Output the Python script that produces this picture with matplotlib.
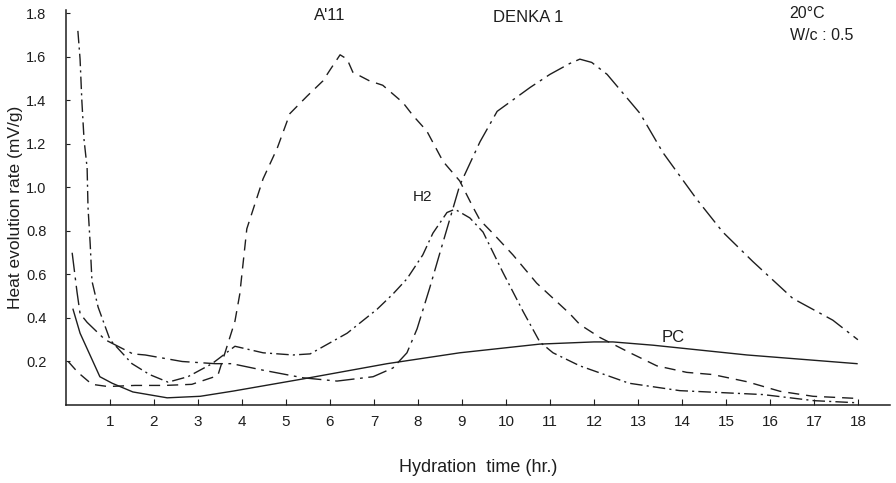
import matplotlib
matplotlib.use("Agg")
import matplotlib.pyplot as plt

# Heat evolution rate (mV/g) vs hydration time (hr)
pc_t = [0.16, 0.32, 0.59, 0.77, 1.05, 1.52, 2.3, 3.05, 3.8, 5.39, 7.3, 8.95,
        10.77, 12.0, 12.43, 13.34, 15.48, 17.98]
pc_q = [0.44, 0.33, 0.21, 0.13, 0.10, 0.06, 0.033, 0.04, 0.064, 0.12, 0.19, 0.24,
        0.28, 0.29, 0.29, 0.275, 0.23, 0.19]

h2_t = [0.27, 0.32, 0.36, 0.41, 0.48, 0.5, 0.55, 0.59, 0.73, 1.0, 1.5, 1.9, 2.32,
        2.77, 3.32, 3.84, 4.48, 5.16, 5.55, 6.39, 7.07, 7.43, 7.75, 8.11, 8.34,
        8.66, 8.84, 9.18, 9.48, 9.93, 10.39, 10.77, 11.07, 11.68, 12.8, 13.95,
        15.84, 17.0, 18.0]
h2_q = [1.72, 1.59, 1.40, 1.22, 1.09, 0.91, 0.74, 0.57, 0.45, 0.30, 0.19, 0.14,
        0.105, 0.13, 0.19, 0.27, 0.24, 0.23, 0.235, 0.33, 0.44, 0.51, 0.58, 0.69,
        0.79, 0.885, 0.90, 0.86, 0.795, 0.61, 0.43, 0.29, 0.24, 0.18, 0.10, 0.066,
        0.048, 0.02, 0.01]

denka_t = [0.14, 0.25, 0.32, 0.48, 0.89, 1.52, 1.8, 2.64, 3.39, 3.77, 4.48, 5.39,
           6.16, 6.98, 7.43, 7.75, 7.98, 8.27, 8.5, 8.95, 9.41, 9.8, 10.55, 11.0,
           11.45, 11.68, 11.95, 12.3, 13.05, 13.57, 14.34, 14.93, 15.61, 16.52,
           17.43, 18.0]
denka_q = [0.70, 0.52, 0.42, 0.38, 0.30, 0.235, 0.23, 0.20, 0.19, 0.19, 0.16, 0.125,
           0.11, 0.13, 0.17, 0.24, 0.35, 0.54, 0.70, 1.01, 1.21, 1.35, 1.46, 1.52,
           1.57, 1.59, 1.575, 1.52, 1.34, 1.16, 0.945, 0.795, 0.66, 0.49,
           0.39, 0.30]

a11_t = [0.05, 0.27, 0.59, 0.95, 1.57, 2.25, 2.86, 3.45, 3.84, 3.95, 4.11, 4.48,
         4.8, 5.09, 5.48, 5.84, 6.0, 6.23, 6.39, 6.52, 6.9, 7.2, 7.66, 7.89, 8.2,
         8.57, 8.95, 9.25, 9.41, 9.7, 10.16, 10.7, 11.45, 11.68, 12.14, 12.82,
         13.43, 14.11, 14.7, 15.48, 16.23, 16.98, 18.0]
a11_q = [0.20, 0.15, 0.095, 0.085, 0.09, 0.09, 0.095, 0.135, 0.385, 0.51, 0.81, 1.04,
         1.18, 1.34, 1.42, 1.49, 1.54, 1.61, 1.59, 1.53, 1.49, 1.47, 1.39, 1.33, 1.26,
         1.12, 1.03, 0.91, 0.85, 0.79, 0.69, 0.56, 0.42, 0.37, 0.31, 0.24,
         0.18, 0.15, 0.14, 0.107, 0.063, 0.04, 0.03]

x_ticks = list(range(1, 19))
y_ticks = [0.2, 0.4, 0.6, 0.8, 1.0, 1.2, 1.4, 1.6, 1.8]

plt.rcParams['font.family'] = ['Liberation Sans', 'DejaVu Sans']
ink = '#1e1e1e'

fig = plt.figure(figsize=(8.96, 4.83), dpi=100)
ax = fig.add_axes([66 / 896, 78 / 483, 824 / 896, 395 / 483])

ax.plot(pc_t, pc_q, color=ink, lw=1.0, linestyle='-')
ax.plot(h2_t, h2_q, color=ink, lw=1.0, linestyle=(0, (9, 3, 1.5, 3)))
ax.plot(denka_t, denka_q, color=ink, lw=1.0, linestyle=(0, (14, 4, 2, 4)))
ax.plot(a11_t, a11_q, color=ink, lw=1.0, linestyle=(0, (8, 5)))

ax.set_xlim(0, 18.73)
ax.set_ylim(0, 1.816)
for side in ['top', 'right']:
    ax.spines[side].set_visible(False)
for side in ['left', 'bottom']:
    ax.spines[side].set_color(ink)
    ax.spines[side].set_linewidth(1.1)

ax.set_xticks(x_ticks)
ax.set_xticklabels([str(t) for t in x_ticks])
ax.set_yticks(y_ticks)
ax.set_yticklabels([f"{v:.1f}" for v in y_ticks])
ax.tick_params(axis='x', direction='in', length=4, pad=7, labelsize=11, colors=ink)
ax.tick_params(axis='y', direction='in', length=3, pad=14, labelsize=10.5, colors=ink)

ax.set_xlabel('Hydration  time (hr.)', fontsize=13, color=ink, labelpad=22)
ax.set_ylabel('Heat evolution rate (mV/g)', fontsize=12.5, color=ink, labelpad=2)

# curve labels
ax.text(6.0, 1.79, "A'11", fontsize=12, color=ink, ha='center', va='center')
ax.text(10.5, 1.78, "DENKA 1", fontsize=12, color=ink, ha='center', va='center')
ax.text(8.1, 0.955, "H2", fontsize=11, color=ink, ha='center', va='center')
ax.text(13.8, 0.31, "PC", fontsize=12, color=ink, ha='center', va='center')
ax.text(16.45, 1.80, "20°C", fontsize=11.5, color=ink, ha='left', va='center')
ax.text(16.45, 1.70, "W/c : 0.5", fontsize=11.5, color=ink, ha='left', va='center')

fig.savefig('out.png', dpi=100)
